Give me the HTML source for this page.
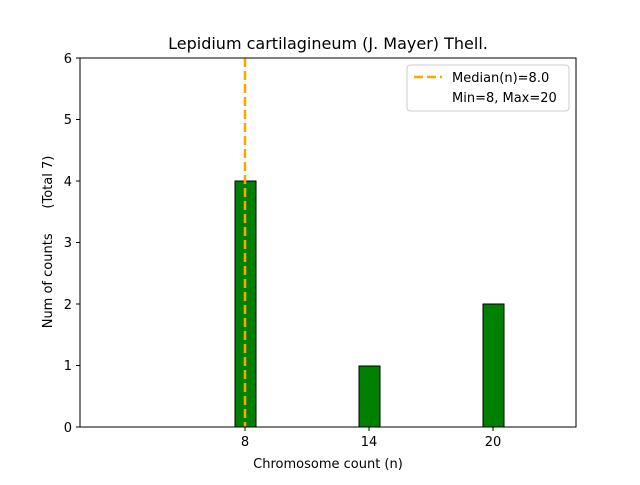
<!DOCTYPE html>
<html><head><style>body{margin:0;background:#fff}</style></head><body>
<svg width="640" height="480" xmlns="http://www.w3.org/2000/svg" font-family="DejaVu Sans, Liberation Sans, sans-serif">
<rect width="640" height="480" fill="#fff"/>
<rect x="235" y="181" width="21" height="246" fill="#008000" stroke="#000" stroke-width="1"/>
<rect x="359" y="366" width="21" height="61" fill="#008000" stroke="#000" stroke-width="1"/>
<rect x="483" y="304" width="21" height="123" fill="#008000" stroke="#000" stroke-width="1"/>
<line x1="245" y1="58" x2="245" y2="427" stroke="#ffa500" stroke-width="2.5" stroke-dasharray="9,4"/>
<rect x="80" y="58" width="496" height="369" fill="none" stroke="#000" stroke-width="1"/>
<g stroke="#000">
<line x1="80" y1="427" x2="76" y2="427"/><line x1="80" y1="365.5" x2="76" y2="365.5"/>
<line x1="80" y1="304" x2="76" y2="304"/><line x1="80" y1="242.5" x2="76" y2="242.5"/>
<line x1="80" y1="181" x2="76" y2="181"/><line x1="80" y1="119.5" x2="76" y2="119.5"/>
<line x1="80" y1="58" x2="76" y2="58"/>
<line x1="245" y1="427" x2="245" y2="431"/><line x1="369" y1="427" x2="369" y2="431"/><line x1="493" y1="427" x2="493" y2="431"/>
</g>
<g font-size="13" text-anchor="end">
<text x="72" y="432">0</text><text x="72" y="370">1</text><text x="72" y="309">2</text>
<text x="72" y="247">3</text><text x="72" y="186">4</text><text x="72" y="124">5</text><text x="72" y="63">6</text>
</g>
<g font-size="13" text-anchor="middle">
<text x="245" y="446">8</text><text x="369" y="446">14</text><text x="493" y="446">20</text>
<text x="328" y="468">Chromosome count (n)</text>
<text x="328" y="49" font-size="16">Lepidium cartilagineum (J. Mayer) Thell.</text>
</g>
<text transform="translate(52,242) rotate(-90)" font-size="13" text-anchor="middle" style="white-space:pre" xml:space="preserve">Num of counts      (Total 7)</text>
<rect x="407" y="65" width="162" height="46" rx="3" fill="#fff" stroke="#ccc"/>
<line x1="414" y1="77" x2="442" y2="77" stroke="#ffa500" stroke-width="2.5" stroke-dasharray="9,4"/>
<text x="452" y="82" font-size="13">Median(n)=8.0</text>
<text x="452" y="102" font-size="13">Min=8, Max=20</text>
</svg>
</body></html>
